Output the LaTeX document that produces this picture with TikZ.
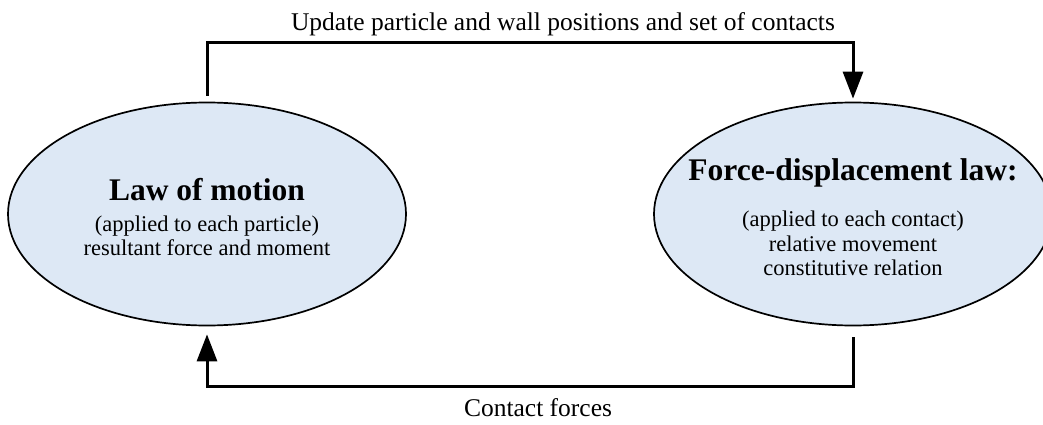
\documentclass[tikz,border=0pt]{standalone}
\usepackage{fontspec}
\setmainfont{Liberation Serif}
\usetikzlibrary{shapes.geometric,arrows.meta}
\definecolor{lawfill}{RGB}{221,232,245}

\begin{document}
\begin{tikzpicture}[x=1pt, y=-1pt, >={Triangle[length=27pt,width=20pt]},
    law/.style={ellipse, draw, line width=1.7pt, fill=lawfill,
        minimum width=398pt, minimum height=223pt, inner sep=0pt},
    lawtext/.style={align=center, inner sep=0pt, font=\fontsize{22.5}{24.5}\selectfont},
    flow/.style={line width=3pt},
    tag/.style={anchor=base, font=\fontsize{25.5}{28}\selectfont}]
    \useasboundingbox (0,0) rectangle (1043,425);

    % The two laws
    \node[law] (motion) at (207,214) {};
    \node[lawtext] (motion text) at ([yshift=-3pt]motion.center)
        {{\fontsize{31.5}{34}\selectfont\bfseries Law of motion}\\[6.5pt]
         (applied to each particle)\\resultant force and moment};
    \node[law] (force) at (853,214) {};
    \node[lawtext] (force text) at ([yshift=-3pt]force.center)
        {{\fontsize{31.5}{34}\selectfont\bfseries Force-displacement law:}\\[22pt]
         (applied to each contact)\\relative movement\\constitutive relation};

    % Update loop (top)
    \coordinate (update) at (530,43);
    \draw[flow, ->] ([yshift=6pt]motion.north) |- (update) -| ([yshift=3pt]force.north);
    \node[tag] (update label) at (563,31) {Update particle and wall positions and set of contacts};

    % Contact forces (bottom)
    \coordinate (contact) at (530,386);
    \draw[flow, ->] ([yshift=-11pt]force.south) |- (contact) -| ([yshift=-8pt]motion.south);
    \node[tag] (contact label) at (538,416) {Contact forces};
\end{tikzpicture}
\end{document}
